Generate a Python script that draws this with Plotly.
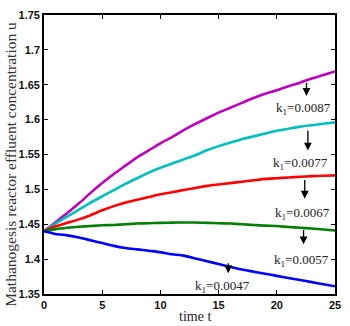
import plotly.graph_objects as go

t = list(range(0, 26))

u_k0087 = [1.440, 1.453, 1.466, 1.480, 1.495, 1.509, 1.522, 1.534, 1.546, 1.556,
           1.566, 1.575, 1.585, 1.594, 1.602, 1.610, 1.617, 1.624, 1.631, 1.637,
           1.642, 1.648, 1.653, 1.659, 1.664, 1.669]
u_k0077 = [1.440, 1.451, 1.461, 1.471, 1.481, 1.490, 1.499, 1.508, 1.516, 1.524,
           1.531, 1.537, 1.543, 1.549, 1.556, 1.562, 1.567, 1.572, 1.576, 1.580,
           1.584, 1.587, 1.590, 1.592, 1.594, 1.596]
u_k0067 = [1.440, 1.447, 1.452, 1.457, 1.463, 1.470, 1.476, 1.481, 1.485, 1.489,
           1.493, 1.496, 1.499, 1.502, 1.505, 1.507, 1.509, 1.511, 1.513, 1.515,
           1.516, 1.517, 1.518, 1.519, 1.5195, 1.520]
u_k0057 = [1.440, 1.443, 1.445, 1.4465, 1.4475, 1.4485, 1.449, 1.450, 1.451, 1.4515,
           1.452, 1.4523, 1.4525, 1.4525, 1.452, 1.4515, 1.451, 1.450, 1.449, 1.448,
           1.4475, 1.446, 1.445, 1.444, 1.4425, 1.441]
u_k0047 = [1.440, 1.436, 1.434, 1.431, 1.427, 1.423, 1.419, 1.416, 1.414, 1.412,
           1.410, 1.407, 1.405, 1.401, 1.397, 1.393, 1.389, 1.385, 1.382, 1.379,
           1.376, 1.373, 1.370, 1.367, 1.364, 1.361]

x_ticks = [0, 5, 10, 15, 20, 25]
x_tick_labels = ["0", "5", "10", "15", "20", "25"]
y_ticks = [1.35, 1.4, 1.45, 1.5, 1.55, 1.6, 1.65, 1.7, 1.75]
y_tick_labels = ["1.35", "1.4", "1.45", "1.5", "1.55", "1.6", "1.65", "1.7", "1.75"]

series = [
    (u_k0087, "#bf00bf"),
    (u_k0077, "#00bfbf"),
    (u_k0067, "#ff0000"),
    (u_k0057, "#008000"),
    (u_k0047, "#0000ff"),
]

labels = ["k<sub>1</sub>=0.0087", "k<sub>1</sub>=0.0077", "k<sub>1</sub>=0.0067",
          "k<sub>1</sub>=0.0057", "k<sub>1</sub>=0.0047"]
label_t = [22.3, 22.0, 22.2, 22.1, 15.3]
label_u = [1.616, 1.537, 1.465, 1.398, 1.361]
arrow_t = [22.55, 22.67, 22.4, 22.3, 15.83]
arrow_u0 = [1.6547, 1.5867, 1.5157, 1.4439, 1.3961]
arrow_u1 = [1.634, 1.5557, 1.4867, 1.4214, 1.3796]

fig = go.Figure()
for vals, col in series:
    fig.add_trace(go.Scatter(
        x=t, y=vals, mode="lines",
        line=dict(color=col, width=2.6, shape="spline", smoothing=0.6),
        showlegend=False,
    ))

for i in range(len(labels)):
    fig.add_annotation(x=label_t[i], y=label_u[i], text=labels[i], showarrow=False,
                       font=dict(family="Liberation Serif", size=13, color="#222"),
                       xref="x", yref="y")
    fig.add_annotation(x=arrow_t[i], y=arrow_u1[i], ax=arrow_t[i], ay=arrow_u0[i],
                       xref="x", yref="y", axref="x", ayref="y", text="",
                       showarrow=True, arrowhead=2, arrowsize=1.2, arrowwidth=1.3,
                       arrowcolor="black")

fig.add_annotation(text="Mathanogesis reactor effluent concentration u",
                   xref="paper", yref="paper", x=-0.115, y=0.465, textangle=-90,
                   xanchor="center", yanchor="middle",
                   showarrow=False, font=dict(family="Liberation Serif", size=15.5, color="#333"))
fig.add_annotation(text="time t", xref="paper", yref="paper", x=0.52, y=-0.08,
                   showarrow=False, xanchor="center", yanchor="middle",
                   font=dict(family="Liberation Serif", size=14, color="#222"))

axis_common = dict(showline=True, linecolor="black", linewidth=1.6, mirror="ticks",
                   ticks="inside", ticklen=4, tickwidth=1.3, tickcolor="black",
                   showgrid=False, zeroline=False,
                   tickfont=dict(family="Liberation Sans", size=11, color="#111"))

fig.update_xaxes(range=[0, 25], tickvals=x_ticks,
                 ticktext=["<b>" + s + "</b>" for s in x_tick_labels], **axis_common)
fig.update_yaxes(range=[1.35, 1.75], tickvals=y_ticks,
                 ticktext=["<b>" + s + "</b>" for s in y_tick_labels], **axis_common)

fig.update_layout(width=350, height=326, margin=dict(l=44, r=9, t=14, b=32),
                  plot_bgcolor="white", paper_bgcolor="white")

fig.write_html("out.html", config={"displayModeBar": False},
               post_script="document.body.style.margin='0';")
